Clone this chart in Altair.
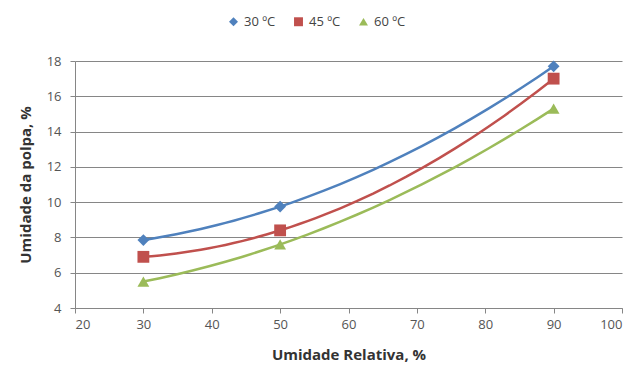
import altair as alt
import pandas as pd

# Relative humidity (%) at which the pulp moisture was measured
umidade_relativa = [30, 50, 90]

# Pulp moisture (%) for each drying temperature
serie_30 = [7.85, 9.75, 17.7]
serie_45 = [6.9, 8.4, 17.0]
serie_60 = [5.5, 7.6, 15.3]

series = ["30 ºC", "45 ºC", "60 ºC"]
cores = ["#4F81BD", "#C0504D", "#9BBB59"]
formas = ["diamond", "square", "triangle-up"]

rows = []
for nome, valores in zip(series, [serie_30, serie_45, serie_60]):
    for x, y in zip(umidade_relativa, valores):
        rows.append({"ur": x, "umidade": y, "serie": nome})
df = pd.DataFrame(rows)

fonte = "Open Sans"

x_enc = alt.X(
    "ur:Q",
    scale=alt.Scale(domain=[20, 100], nice=False),
    axis=alt.Axis(
        values=list(range(20, 101, 10)),
        title="Umidade Relativa, %",
        grid=False,
    ),
)
y_enc = alt.Y(
    "umidade:Q",
    scale=alt.Scale(domain=[4, 18], nice=False),
    axis=alt.Axis(
        values=list(range(4, 19, 2)),
        title="Umidade da polpa, %",
        grid=True,
    ),
)

legenda = alt.Legend(
    title=None,
    orient="none",
    direction="horizontal",
    legendX=152,
    legendY=-46,
    labelFont=fonte,
    labelFontSize=13,
    labelColor="#444444",
    symbolSize=80,
    columnPadding=16,
    labelOffset=4,
    symbolStrokeWidth=0,
)
cor = alt.Color("serie:N", scale=alt.Scale(domain=series, range=cores), legend=legenda)
forma = alt.Shape("serie:N", scale=alt.Scale(domain=series, range=formas), legend=legenda)

# second-order polynomial trend curve for each temperature
linhas = (
    alt.Chart(df)
    .transform_regression(
        "ur", "umidade", groupby=["serie"], method="poly", order=2, extent=[30, 90]
    )
    .mark_line(strokeWidth=2.5)
    .encode(x=x_enc, y=y_enc, color=cor)
)

pontos = alt.Chart(df).mark_point(
    filled=True, opacity=1, size=140
).encode(x=x_enc, y=y_enc, color=cor, shape=forma)

chart = (
    alt.layer(linhas, pontos)
    .properties(
        width=547,
        height=247,
        autosize=alt.AutoSizeParams(type="none"),
        padding={"left": 75, "top": 61, "right": 16, "bottom": 66},
    )
    .configure_view(stroke=None)
    .configure_axis(
        labelFont=fonte,
        labelFontSize=13,
        labelColor="#555555",
        titleFont=fonte,
        titleFontSize=15,
        titleFontWeight="bold",
        titleColor="#333333",
        domainColor="#868686",
        tickColor="#868686",
        gridColor="#868686",
        gridWidth=1,
        tickSize=5,
    )
    .configure_axisX(labelPadding=5, titlePadding=16)
    .configure_axisY(labelPadding=9, titlePadding=13)
)

chart.save("out.html", embed_options={"renderer": "svg", "actions": False})
